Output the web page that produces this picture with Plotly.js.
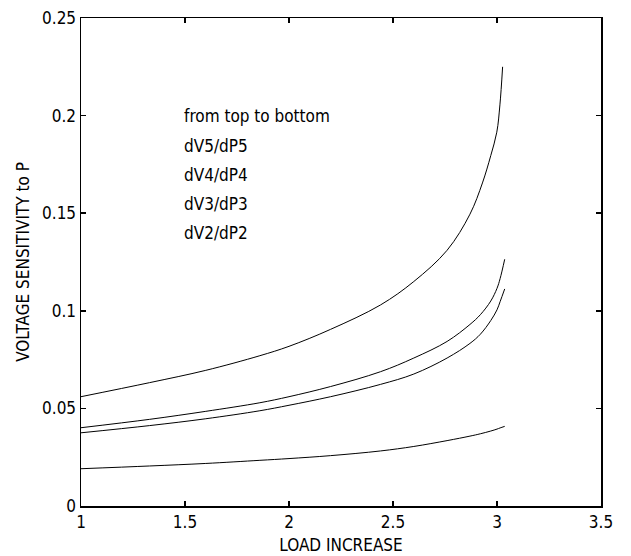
<!DOCTYPE html>
<html>
<head>
<meta charset="utf-8">
<script src="https://cdn.plot.ly/plotly-3.0.1.min.js"></script>
<style>html,body{margin:0;padding:0;background:#fff;}#chart{width:631px;height:556px;}</style>
</head>
<body>
<div id="chart"></div>
<script>
// Load increase values (x) for the top curve and the three lower curves
const loadTop   = [1.0, 1.33, 1.6, 1.86, 2.0, 2.2, 2.44, 2.6, 2.76, 2.87, 2.93, 2.97, 2.999, 3.014, 3.027];
const loadLower = [1.0, 1.33, 1.6, 1.86, 2.0, 2.2, 2.44, 2.6, 2.76, 2.87, 2.92, 2.97, 3.0, 3.015, 3.037];

// Voltage sensitivity series
const dV5dP5 = [0.0560, 0.0632, 0.0695, 0.0770, 0.0818, 0.0905, 0.1030, 0.1150, 0.1310, 0.1495, 0.1655, 0.1795, 0.1915, 0.2055, 0.2250];
const dV4dP4 = [0.0401, 0.0444, 0.0485, 0.0529, 0.0560, 0.0612, 0.0688, 0.0758, 0.0843, 0.0930, 0.0980, 0.1050, 0.1115, 0.1165, 0.1264];
const dV3dP3 = [0.0375, 0.0412, 0.0447, 0.0488, 0.0516, 0.0560, 0.0623, 0.0676, 0.0758, 0.0833, 0.0880, 0.0950, 0.1005, 0.1047, 0.1112];
const dV2dP2 = [0.0191, 0.0205, 0.0218, 0.0234, 0.0243, 0.0258, 0.0282, 0.0305, 0.0335, 0.0358, 0.0370, 0.0384, 0.0394, 0.0400, 0.0408];

const noteLines = ["from top to bottom", "dV5/dP5", "dV4/dP4", "dV3/dP3", "dV2/dP2"];
const xTicks = [1, 1.5, 2, 2.5, 3, 3.5];
const yTicks = [0, 0.05, 0.1, 0.15, 0.2, 0.25];

const FONT = "DejaVu Sans Condensed, Liberation Sans Narrow, Liberation Sans, Arial, sans-serif";

const traces = [
  {x: loadTop, y: dV5dP5, name: "dV5/dP5"},
  {x: loadLower, y: dV4dP4, name: "dV4/dP4"},
  {x: loadLower, y: dV3dP3, name: "dV3/dP3"},
  {x: loadLower, y: dV2dP2, name: "dV2/dP2"}
].map(t => Object.assign(t, {
  type: "scatter", mode: "lines", hoverinfo: "skip",
  line: {color: "#000", width: 1, shape: "spline", smoothing: 1}
}));

const noteY = [0.799, 0.738, 0.678, 0.619, 0.559];
const annotations = noteLines.map((txt, i) => ({
  text: txt, xref: "paper", yref: "paper", x: 0.194, y: noteY[i],
  xanchor: "left", yanchor: "middle", showarrow: false,
  font: {family: FONT, size: 17, color: "#000"}
}));

const axisCommon = {
  showline: true, linecolor: "#000", linewidth: 1.5, mirror: "ticks",
  ticks: "inside", ticklen: 5, tickcolor: "#000", tickwidth: 1.5,
  showgrid: false, zeroline: false,
  tickfont: {family: FONT, size: 17, color: "#000"}
};

const layout = {
  width: 631, height: 556,
  margin: {l: 81, r: 30, t: 18, b: 50},
  paper_bgcolor: "#fff", plot_bgcolor: "#fff",
  showlegend: false,
  xaxis: Object.assign({}, axisCommon, {
    range: [1, 3.5], tickmode: "array", tickvals: xTicks,
    title: {text: "LOAD INCREASE", font: {family: FONT, size: 17, color: "#000"}, standoff: 8}
  }),
  yaxis: Object.assign({}, axisCommon, {
    range: [0, 0.25], tickmode: "array", tickvals: yTicks,
    title: {text: "VOLTAGE SENSITIVITY to P", font: {family: FONT, size: 17, color: "#000"}, standoff: 8}
  }),
  annotations: annotations
};

Plotly.newPlot("chart", traces, layout, {staticPlot: true, displayModeBar: false});
</script>
</body>
</html>
